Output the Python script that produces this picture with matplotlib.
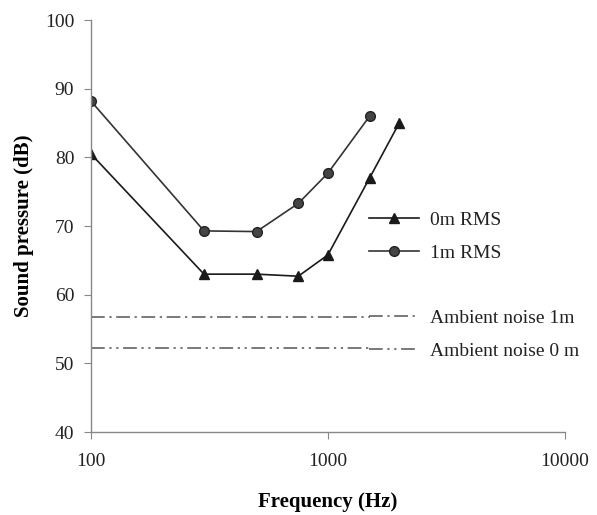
import matplotlib
matplotlib.use("Agg")
import matplotlib.pyplot as plt

# data
freq_0m = [100, 300, 500, 750, 1000, 1500, 2000]
rms_0m = [80.5, 63.0, 63.0, 62.7, 65.8, 77.0, 85.0]
freq_1m = [100, 300, 500, 750, 1000, 1500]
rms_1m = [88.2, 69.3, 69.2, 73.3, 77.7, 86.0]
ambient_freq = [100, 1500]
ambient_1m = [56.8, 56.8]
ambient_0m = [52.2, 52.2]

plt.rcParams["font.family"] = ["Liberation Serif", "DejaVu Serif"]

fig = plt.figure(figsize=(5.97, 5.15), dpi=100)
ax = fig.add_axes([0.1524, 0.161, 0.7936, 0.8])

ln0, = ax.plot(freq_0m, rms_0m, color="#1a1a1a", lw=1.2, marker="^", ms=7,
               label="0m RMS")
ln1, = ax.plot(freq_1m, rms_1m, color="#333333", lw=1.2, marker="o", ms=7,
               mfc="#444444", mec="#222222", label="1m RMS")
amb1, = ax.plot(ambient_freq, ambient_1m, color="#555555", lw=1.1,
                dashes=(9, 3, 1.5, 3), label="Ambient noise 1m")
amb0, = ax.plot(ambient_freq, ambient_0m, color="#555555", lw=1.1,
                dashes=(9, 3, 1.5, 3, 1.5, 3), label="Ambient noise 0 m")

ax.set_xscale("log")
ax.set_xlim(100, 10000)
ax.set_ylim(40, 100)
ax.set_xticks([100, 1000, 10000])
ax.set_xticklabels(["100", "1000", "10000"])
ax.xaxis.set_minor_locator(matplotlib.ticker.NullLocator())
ax.set_yticks(range(40, 101, 10))

for s in ["top", "right"]:
    ax.spines[s].set_visible(False)
for s in ["left", "bottom"]:
    ax.spines[s].set_color("#888888")
    ax.spines[s].set_linewidth(1.0)
ax.tick_params(colors="#888888", labelcolor="#222222", labelsize=14,
               length=5, direction="out")
ax.tick_params(axis="y", pad=7)
ax.tick_params(axis="x", pad=10)

ax.set_xlabel("Frequency (Hz)", fontsize=15, fontweight="bold", labelpad=16)
ax.set_ylabel("Sound pressure (dB)", fontsize=15, fontweight="bold", labelpad=8)

leg_opts = dict(loc="upper left", frameon=False, fontsize=14, numpoints=1,
                handlelength=2.6, handletextpad=0.55, labelspacing=0.78,
                borderaxespad=0)
leg1 = ax.legend([ln0, ln1], ["0m RMS", "1m RMS"],
                 bbox_to_anchor=(0.57, 0.555), **leg_opts)
ax.add_artist(leg1)
leg2 = ax.legend([amb1, amb0], ["Ambient noise 1m", "Ambient noise 0 m"],
                 bbox_to_anchor=(0.57, 0.317), **leg_opts)
for leg in (leg1, leg2):
    for t in leg.get_texts():
        t.set_color("#222222")

fig.savefig("out.png", dpi=100)
